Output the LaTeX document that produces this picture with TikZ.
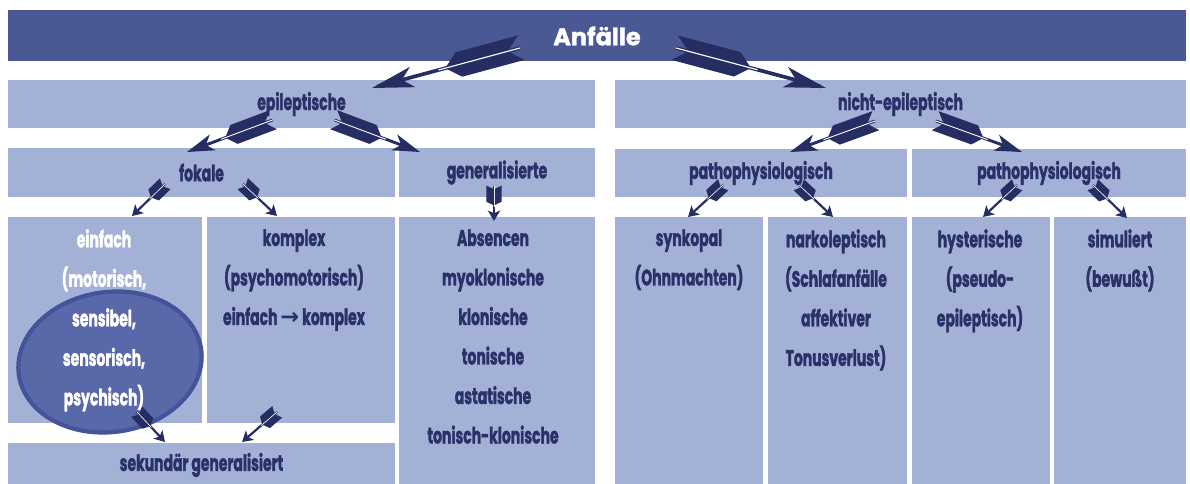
\documentclass[tikz,border=0pt]{standalone}
\usepackage{fontspec}
\setmainfont{Poppins}[FakeStretch=0.62, BoldFeatures={FakeBold=1.4}]
\newfontfamily\titelschrift{Poppins}[BoldFeatures={FakeBold=1.4}]
\newfontfamily\symbolschrift{DejaVu Sans}
\usetikzlibrary{calc,decorations.markings}

\definecolor{balkenblau}{HTML}{4A5894}
\definecolor{kastenblau}{HTML}{A2B1D5}
\definecolor{textblau}{HTML}{2A3068}
\definecolor{pfeilblau}{HTML}{252D62}
\definecolor{ovalblau}{HTML}{5868A8}
\definecolor{ovalrand}{HTML}{44539A}

\tikzset{
	schrift/.style={text=textblau, font=\bfseries\fontsize{16}{28.1}\selectfont, align=center, inner sep=0pt},
	hell/.style={schrift, text=white},
	oval/.style={fill=ovalblau, draw=ovalrand, line width=3pt},
	pfeil/.style 2 args={postaction={decorate}, decoration={markings,
		mark=at position 0 with {
			\draw[pfeilblau, line width={2.6pt*#2}] (0pt,0pt) -- (\pgfdecoratedpathlength-4pt,0pt);
			\draw[white, line width={0.8pt*#2}] (0pt,0pt) -- (60pt*#1,0pt);
			\fill[pfeilblau, xscale=#1, yscale=#2] (8pt,1pt) -- (54pt,1pt) -- (45pt,9pt) -- (-1pt,9pt) -- cycle;
			\fill[pfeilblau, xscale=#1, yscale=#2] (8pt,-1pt) -- (54pt,-1pt) -- (45pt,-9pt) -- (-1pt,-9pt) -- cycle;},
		mark=at position 1 with {
			\fill[pfeilblau, xscale=#1, yscale=#2] (0pt,0pt) -- (-30pt,7.5pt) -- (-22pt,0pt) -- (-30pt,-7.5pt) -- cycle;}}},
	gross/.style={pfeil={1}{1}},
	mittel/.style={pfeil={0.65}{0.8}},
	klein/.style={pfeil={0.25}{0.6}},
}

\begin{document}
\begin{tikzpicture}[x=0.025cm, y=-0.025cm]
	%%%%% START %%%%%
	\useasboundingbox (0,0) rectangle (1190,484);
	
	\fill[balkenblau] (8,10) rectangle (1186,61);
	
	\fill[kastenblau] (8,80) rectangle (595,128);
	\fill[kastenblau] (615,80) rectangle (1186,128);
	
	\fill[kastenblau] (8,148) rectangle (395,197);
	\fill[kastenblau] (399,148) rectangle (595,197);
	\fill[kastenblau] (615,149) rectangle (907,197);
	\fill[kastenblau] (912,149) rectangle (1186,197);
	
	\fill[kastenblau] (8,217) rectangle (202,423);
	\fill[kastenblau] (207,217) rectangle (395,423);
	\fill[kastenblau] (8,443) rectangle (395,484);
	\fill[kastenblau] (399,217) rectangle (595,484);
	\fill[kastenblau] (615,217) rectangle (763,484);
	\fill[kastenblau] (768,217) rectangle (907,484);
	\fill[kastenblau] (912,217) rectangle (1050,484);
	\fill[kastenblau] (1054,217) rectangle (1186,484);
	
	\draw[oval, rotate around={8:(110,362)}] (110,362) ellipse [x radius=2.3cm, y radius=1.75cm];
	
	\node[schrift, text=white, font=\titelschrift\bfseries\fontsize{17}{17}\selectfont] (titel) at (597,36) {Anfälle};
	
	\node[schrift] (epi) at (301.5,104) {epileptische};
	\node[schrift] (nepi) at (900.5,104) {nicht-epileptisch};
	
	\node[schrift] (fok) at (201.5,172.5) {fokale};
	\node[schrift] (gen) at (497,172.5) {generalisierte};
	\node[schrift] (pathA) at (761,173) {pathophysiologisch};
	\node[schrift] (pathB) at (1049,173) {pathophysiologisch};
	
	\node[hell, anchor=north] (einfach) at (104,229) {einfach\\(motorisch,\\sensibel,\\sensorisch,\\psychisch)};
	\node[schrift, anchor=north] (komplex) at (294,229) {komplex\\(psychomotorisch)\\einfach {\symbolschrift\bfseries →} komplex};
	\node[schrift, anchor=north] (absenc) at (493,229) {Absencen\\myoklonische\\klonische\\tonische\\astatische\\tonisch-klonische};
	\node[schrift, anchor=north] (synk) at (689,229) {synkopal\\(Ohnmachten)};
	\node[schrift, anchor=north] (narko) at (836,229) {narkoleptisch\\(Schlafanfälle\\affektiver\\Tonusverlust)};
	\node[schrift, anchor=north] (hyst) at (980,229) {hysterische\\(pseudo-\\epileptisch)};
	\node[schrift, anchor=north] (simul) at (1120,229) {simuliert\\(bewußt)};
	
	\node[schrift] (sek) at (201.5,465) {sekundär generalisiert};
	
	\path[gross] ($(titel)+(-77,12)$) -- ($(epi)+(70.5,-16)$);
	\path[gross] ($(titel)+(79,12)$) -- ($(nepi)+(-74.5,-16)$);
	
	\path[mittel] ($(epi)+(-29,16)$) -- ($(fok)+(-14.5,-20.5)$);
	\path[mittel] ($(epi)+(33,16)$) -- ($(gen)+(-77,-20.5)$);
	\path[mittel] ($(nepi)+(-25.5,17)$) -- ($(pathA)+(29,-21)$);
	\path[mittel] ($(nepi)+(35.5,17)$) -- ($(pathB)+(-27,-21)$);
	
	\path[klein] ($(fok)+(-36.5,11.5)$) -- ($(einfach.north)+(28,-13)$);
	\path[klein] ($(fok)+(41.5,11.5)$) -- ($(komplex.north)+(-17,-13)$);
	\path[klein] ($(gen)+(-3,13.5)$) -- ($(absenc.north)+(1,-8)$);
	\path[klein] ($(pathA)+(-38,12)$) -- ($(synk.north)+(-1,-12)$);
	\path[klein] ($(pathA)+(38,12)$) -- ($(narko.north)+(-3,-12)$);
	\path[klein] ($(pathB)+(-32,12)$) -- ($(hyst.north)+(3,-12)$);
	\path[klein] ($(pathB)+(44,12)$) -- ($(simul.north)+(7,-11)$);
	
	\path[klein] ($(sek)+(-64.5,-53)$) -- ($(sek)+(-36.5,-23)$);
	\path[klein] ($(sek)+(75.5,-53)$) -- ($(sek)+(40.5,-23)$);
	
	%%%%% END %%%%%
\end{tikzpicture}
\end{document}
